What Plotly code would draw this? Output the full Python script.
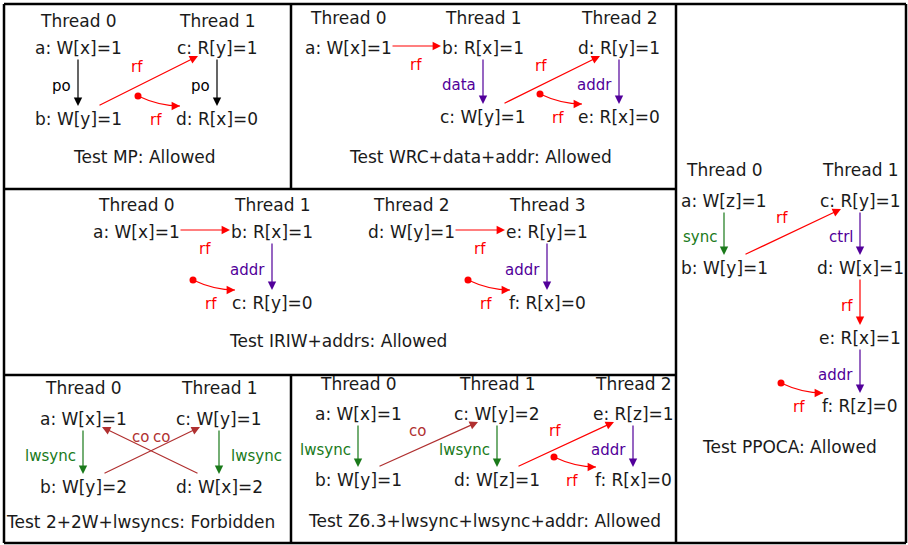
import plotly.graph_objects as go

W, H = 908, 545
FONT = "DejaVu Sans"

# ---------------- data: litmus tests ----------------
mp_title = "Test MP: Allowed"
mp_threads = ["Thread 0", "Thread 1"]
mp_events = [("a", "W[x]=1", 0, 0), ("b", "W[y]=1", 0, 1),
             ("c", "R[y]=1", 1, 0), ("d", "R[x]=0", 1, 1)]
mp_edges = [("a", "b", "po"), ("c", "d", "po"), ("b", "c", "rf"), ("init", "d", "rf")]

wrc_title = "Test WRC+data+addr: Allowed"
wrc_threads = ["Thread 0", "Thread 1", "Thread 2"]
wrc_events = [("a", "W[x]=1", 0, 0), ("b", "R[x]=1", 1, 0), ("c", "W[y]=1", 1, 1),
              ("d", "R[y]=1", 2, 0), ("e", "R[x]=0", 2, 1)]
wrc_edges = [("a", "b", "rf"), ("b", "c", "data"), ("c", "d", "rf"),
             ("d", "e", "addr"), ("init", "e", "rf")]

iriw_title = "Test IRIW+addrs: Allowed"
iriw_threads = ["Thread 0", "Thread 1", "Thread 2", "Thread 3"]
iriw_events = [("a", "W[x]=1", 0, 0), ("b", "R[x]=1", 1, 0), ("c", "R[y]=0", 1, 1),
               ("d", "W[y]=1", 2, 0), ("e", "R[y]=1", 3, 0), ("f", "R[x]=0", 3, 1)]
iriw_edges = [("a", "b", "rf"), ("b", "c", "addr"), ("init", "c", "rf"),
              ("d", "e", "rf"), ("e", "f", "addr"), ("init", "f", "rf")]

w22_title = "Test 2+2W+lwsyncs: Forbidden"
w22_threads = ["Thread 0", "Thread 1"]
w22_events = [("a", "W[x]=1", 0, 0), ("b", "W[y]=2", 0, 1),
              ("c", "W[y]=1", 1, 0), ("d", "W[x]=2", 1, 1)]
w22_edges = [("a", "b", "lwsync"), ("c", "d", "lwsync"), ("b", "c", "co"), ("d", "a", "co")]

z63_title = "Test Z6.3+lwsync+lwsync+addr: Allowed"
z63_threads = ["Thread 0", "Thread 1", "Thread 2"]
z63_events = [("a", "W[x]=1", 0, 0), ("b", "W[y]=1", 0, 1), ("c", "W[y]=2", 1, 0),
              ("d", "W[z]=1", 1, 1), ("e", "R[z]=1", 2, 0), ("f", "R[x]=0", 2, 1)]
z63_edges = [("a", "b", "lwsync"), ("b", "c", "co"), ("c", "d", "lwsync"),
             ("d", "e", "rf"), ("e", "f", "addr"), ("init", "f", "rf")]

ppoca_title = "Test PPOCA: Allowed"
ppoca_threads = ["Thread 0", "Thread 1"]
ppoca_events = [("a", "W[z]=1", 0, 0), ("b", "W[y]=1", 0, 1), ("c", "R[y]=1", 1, 0),
                ("d", "W[x]=1", 1, 1), ("e", "R[x]=1", 1, 2), ("f", "R[z]=0", 1, 3)]
ppoca_edges = [("a", "b", "sync"), ("b", "c", "rf"), ("c", "d", "ctrl"),
               ("d", "e", "rf"), ("e", "f", "addr"), ("init", "f", "rf")]

# ---------------- styling / layout ----------------
KIND_COLOR = {"po": "#000000", "rf": "#ff0000", "data": "#52009a", "addr": "#52009a",
              "ctrl": "#52009a", "lwsync": "#1a7a1a", "sync": "#1a7a1a", "co": "#b03030"}
NODE_SIZE = 17
EDGE_SIZE = 15

panels = [
    dict(title=mp_title, threads=mp_threads, events=mp_events, edges=mp_edges,
         cols=[78, 217], ty=21, rows=[48, 119], tpos=(144, 157), right=[]),
    dict(title=wrc_title, threads=wrc_threads, events=wrc_events, edges=wrc_edges,
         cols=[348, 483, 619], ty=18, rows=[48, 117], tpos=(480, 157), right=[]),
    dict(title=iriw_title, threads=iriw_threads, events=iriw_events, edges=iriw_edges,
         cols=[136, 272, 411, 547], ty=205, rows=[232, 303], tpos=(338, 341), right=[]),
    dict(title=w22_title, threads=w22_threads, events=w22_events, edges=w22_edges,
         cols=[83, 219], ty=388, rows=[419, 487], tpos=(140, 522), right=[1]),
    dict(title=z63_title, threads=z63_threads, events=z63_events, edges=z63_edges,
         cols=[358, 497, 633], ty=384, rows=[414, 480], tpos=(484, 521), right=[]),
    dict(title=ppoca_title, threads=ppoca_threads, events=ppoca_events, edges=ppoca_edges,
         cols=[724, 860], ty=170, rows=[201, 268, 338, 406], tpos=(789, 447), right=[]),
]

borders = [((4, 4), (906, 4)), ((4, 543), (906, 543)), ((4, 4), (4, 543)), ((906, 4), (906, 543)),
           ((676, 4), (676, 543)), ((4, 189), (676, 189)), ((4, 375), (676, 375)),
           ((291, 4), (291, 189)), ((291, 375), (291, 543))]

fig = go.Figure()
ann = []
shapes = []
dots_x, dots_y = [], []


def text(x, y, s, size=NODE_SIZE, color="#1a1a1a", xanchor="center"):
    ann.append(dict(x=x, y=y, xref="x", yref="y", text=s, showarrow=False,
                    xanchor=xanchor, yanchor="middle",
                    font=dict(family=FONT, size=size, color=color)))


def arrow(tx, ty, hx, hy, color):
    ann.append(dict(x=hx, y=hy, ax=tx, ay=ty, xref="x", yref="y", axref="x", ayref="y",
                    text="", showarrow=True, arrowhead=2, arrowsize=1.4, arrowwidth=1.2,
                    arrowcolor=color, standoff=0, startstandoff=0))


for p in panels:
    cols, rows = p["cols"], p["rows"]
    for i, t in enumerate(p["threads"]):
        text(cols[i], p["ty"], t)
    pos = {}
    for name, acc, th, r in p["events"]:
        pos[name] = (cols[th], rows[r], th, r)
        text(cols[th], rows[r], f"{name}: {acc}")
    text(p["tpos"][0], p["tpos"][1], p["title"])
    for s, d, kind in p["edges"]:
        c = KIND_COLOR[kind]
        xd, yd, thd, rd = pos[d]
        if s == "init":
            x0, y0 = xd - 79, yd - 23
            x1, y1 = xd - 37, yd - 13
            cx, cy = xd - 58, yd - 13
            shapes.append(dict(type="path", xref="x", yref="y",
                               path=f"M {x0},{y0} Q {cx},{cy} {x1},{y1}",
                               line=dict(color=c, width=1.2)))
            arrow(x1 - 0.4 * (x1 - cx), y1 - 0.4 * (y1 - cy), x1, y1, c)
            dots_x.append(x0)
            dots_y.append(y0)
            text(xd - 61, yd + 1, kind, size=EDGE_SIZE, color=c)
            continue
        xs, ys, ths, rs = pos[s]
        if ths == thd:
            y0, y1 = ys + 10, yd - 13
            arrow(xs, y0, xd, y1, c)
            ym = (y0 + y1) / 2 + 4
            if ths in p["right"]:
                text(xs + 10, ym, kind, size=EDGE_SIZE, color=c, xanchor="left")
            else:
                text(xs - 5, ym, kind, size=EDGE_SIZE, color=c, xanchor="right")
        elif rs == rd:
            x0, x1 = xs + 43, xd - 42
            arrow(x0, ys - 2, x1, yd - 2, c)
            text((x0 + x1) / 2, ys + 17, kind, size=EDGE_SIZE, color=c)
        else:
            sgn = 1 if xd > xs else -1
            x0, y0 = xs + sgn * 20, ys - 13
            x1, y1 = xd - sgn * 19, yd + 8
            arrow(x0, y0, x1, y1, c)
            text((x0 + x1) / 2 - sgn * 11, (y0 + y1) / 2 - 14, kind, size=EDGE_SIZE, color=c)

for (a, b) in borders:
    shapes.append(dict(type="line", xref="x", yref="y", x0=a[0], y0=a[1], x1=b[0], y1=b[1],
                       line=dict(color="#000000", width=2.5)))

fig.add_trace(go.Scatter(x=dots_x, y=dots_y, mode="markers",
                         marker=dict(color="#ff0000", size=7), hoverinfo="skip",
                         showlegend=False, cliponaxis=False))

fig.update_layout(
    width=W, height=H, margin=dict(l=0, r=0, t=0, b=0),
    paper_bgcolor="white", plot_bgcolor="white",
    xaxis=dict(range=[0, W], visible=False, fixedrange=True),
    yaxis=dict(range=[H, 0], visible=False, fixedrange=True),
    annotations=ann, shapes=shapes, showlegend=False,
)

fig.write_html("out.html", config={"displayModeBar": False, "staticPlot": True},
               post_script="document.body.style.margin='0';document.body.style.overflow='hidden';")
